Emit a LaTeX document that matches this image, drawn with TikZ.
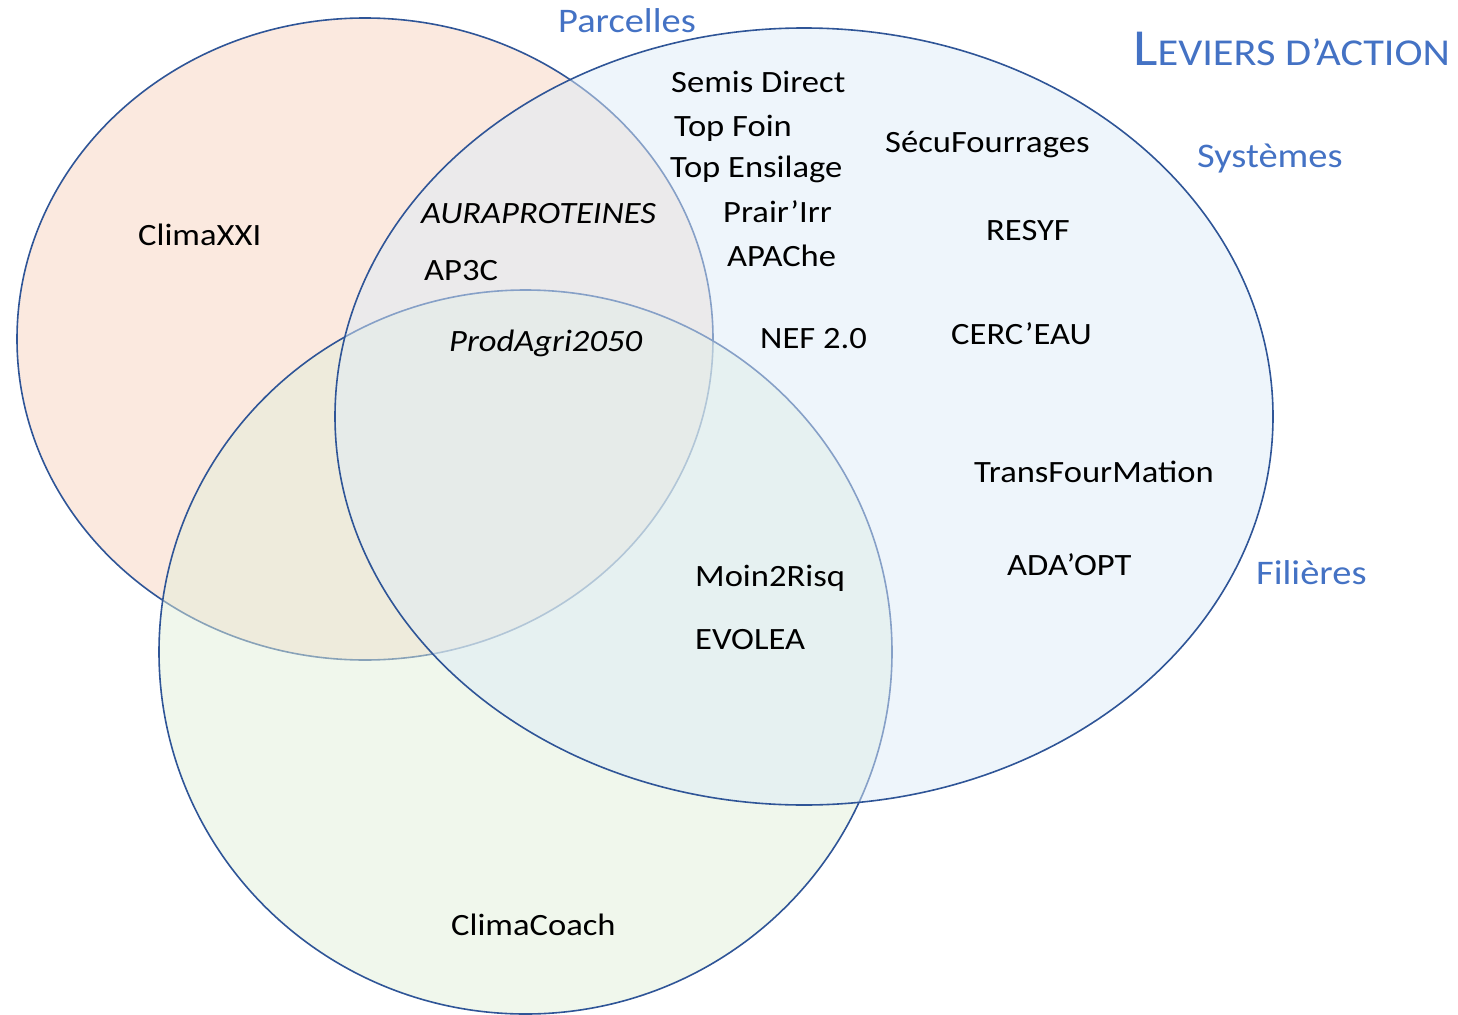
\documentclass[tikz,border=0pt]{standalone}
\usepackage{fontspec}
\setmainfont{Carlito}[FakeStretch=1.115]
\definecolor{edge}{HTML}{2F5597}
\definecolor{orangefill}{HTML}{F7D3BF}
\definecolor{bluefill}{HTML}{DDEBF7}
\definecolor{greenfill}{HTML}{E2EFD9}
\definecolor{labelblue}{HTML}{4472C4}
\tikzset{
  set/.style={draw=edge, line width=1.6pt, fill opacity=0.5, draw opacity=1},
  lbl/.style={anchor=base west, inner sep=0pt, font=\fontsize{31}{37}\selectfont, text=black},
  cat/.style={lbl, font=\fontsize{34.5}{40}\selectfont, text=labelblue},
}
\begin{document}
\begin{tikzpicture}[x=1pt,y=-1pt]
\useasboundingbox (0,0) rectangle (1458,1014);
% sets
\path[set, fill=orangefill] (365,339) ellipse [x radius=348pt, y radius=321pt];
\path[set, fill=greenfill] (525.5,652) ellipse [x radius=366.5pt, y radius=362pt];
\path[set, fill=bluefill] (804,416.5) ellipse [x radius=469pt, y radius=388.5pt];
% category labels
\node[cat] (parcelles) at (558,33) {Parcelles};
\node[cat] (systemes) at (1197,167) {Systèmes};
\node[cat] (filieres) at (1256,584) {Filières};
\node[anchor=base west, inner sep=0pt, text=labelblue] (title) at (1133,66)
  {\fontsize{52}{57}\selectfont L\fontsize{38}{42}\selectfont EVIERS D’ACTION};
% projects
\node[lbl] (semis) at (671,93) {Semis Direct};
\node[lbl] (topfoin) at (674,136) {Top Foin};
\node[lbl] (topens) at (670,177) {Top Ensilage};
\node[lbl] (secu) at (885,153) {SécuFourrages};
\node[lbl] (climaxxi) at (138,245) {ClimaXXI};
\node[lbl, font=\fontsize{31}{37}\selectfont\itshape] (aura) at (421,223) {AURAPROTEINES};
\node[lbl] (prair) at (723,222) {Prair’Irr};
\node[lbl] (resyf) at (986,240) {RESYF};
\node[lbl] (ap3c) at (424,280) {AP3C};
\node[lbl] (apache) at (727,266) {APAChe};
\node[lbl, font=\fontsize{31}{37}\selectfont\itshape] (prodagri) at (449,351) {ProdAgri2050};
\node[lbl] (nef) at (760,348) {NEF 2.0};
\node[lbl] (cerc) at (951,344) {CERC’EAU};
\node[lbl] (transf) at (974,482) {TransFourMation};
\node[lbl] (adaopt) at (1007,575) {ADA’OPT};
\node[lbl] (moin) at (695,586) {Moin2Risq};
\node[lbl] (evolea) at (695,649) {EVOLEA};
\node[lbl] (climacoach) at (451,935) {ClimaCoach};
\end{tikzpicture}
\end{document}
